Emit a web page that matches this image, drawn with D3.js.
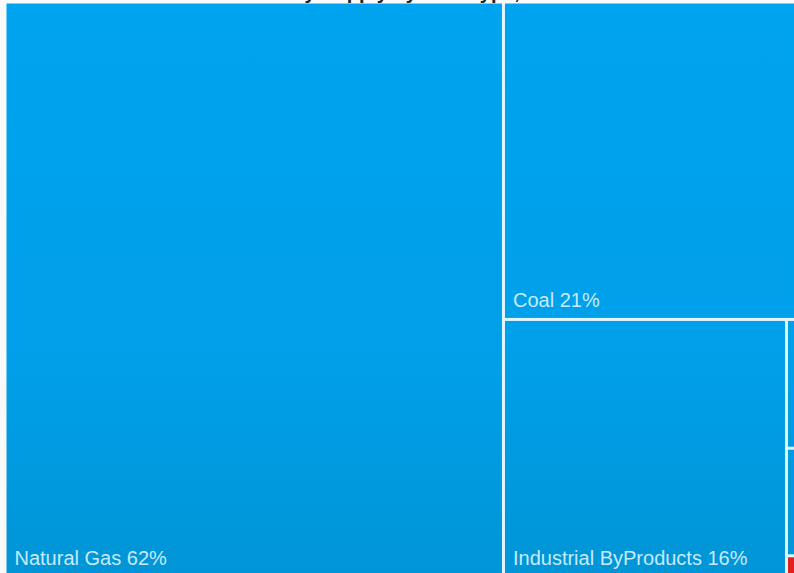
<!DOCTYPE html>
<html>
<head>
<meta charset="utf-8">
<script src="https://cdn.jsdelivr.net/npm/d3@7"></script>
<style>
  body { margin: 0; background: #fafafa; overflow: hidden; }
  svg { display: block; }
</style>
</head>
<body>
<div id="chart"></div>
<script>
// canvas size of the screenshot
let svgWidth = 794;
let svgHeight = 573;

// Fuel categories and their share (%) of generation
let fuels = ["Natural Gas", "Coal", "Industrial ByProducts", "Oil", "Hydro", "Other"];
let shares = [62, 21, 16, 0.73, 0.61, 0.16];
let labels = ["62%", "21%", "16%", "1%", "1%", "0%"];
let colors = ["blue", "blue", "blue", "blue", "blue", "red"];

let chartTitle = "Electricity Supply by Fuel Type, 2019";

// treemap is bigger than the window, it gets cut at right / bottom
let treeWidth = 805;
let treeHeight = 579;
let offsetX = 6.5;
let offsetY = 3.5;
// labels never go below this line (bottom of the window)
let visibleBottom = 576;

let svg = d3.select("#chart")
  .append("svg")
  .attr("width", svgWidth)
  .attr("height", svgHeight);

// vertical gradient, the blue gets a little darker toward the bottom
let defs = svg.append("defs");
let grad = defs.append("linearGradient")
  .attr("id", "blueGrad")
  .attr("gradientUnits", "userSpaceOnUse")
  .attr("x1", 0).attr("y1", 0)
  .attr("x2", 0).attr("y2", svgHeight);
grad.append("stop").attr("offset", "0%").attr("stop-color", "#00a3ef");
grad.append("stop").attr("offset", "60%").attr("stop-color", "#00a0ea");
grad.append("stop").attr("offset", "100%").attr("stop-color", "#0095d6");

let fillFor = {
  blue: "url(#blueGrad)",
  red: "#e0201c"
};

// title sits mostly above the visible area, only descenders show
svg.append("text")
  .attr("x", 395)
  .attr("y", -1)
  .attr("text-anchor", "middle")
  .style("font-family", "Liberation Sans, Arial, sans-serif")
  .style("font-size", "20px")
  .style("font-weight", "bold")
  .style("fill", "#222")
  .text(chartTitle);

// build hierarchy
let tableData = fuels.map((f, i) => ({
  name: f,
  value: shares[i],
  label: labels[i],
  color: colors[i]
}));

let root = d3.hierarchy({ name: "root", children: tableData })
  .sum(d => d.value)
  .sort((a, b) => b.value - a.value);

d3.treemap()
  .tile(d3.treemapSquarify)
  .size([treeWidth, treeHeight])
  .paddingInner(3)
  (root);

let chartGroup = svg.append("g")
  .attr("transform", `translate(${offsetX}, ${offsetY})`);

// white-ish backdrop behind the tiles so the gaps look light
chartGroup.append("rect")
  .attr("x", 1.5)
  .attr("y", 1.5)
  .attr("width", treeWidth)
  .attr("height", treeHeight)
  .attr("fill", "#e2f6ff");

let cells = chartGroup.selectAll("g.cell")
  .data(root.leaves())
  .enter()
  .append("g")
  .attr("class", "cell");

cells.append("rect")
  .attr("x", d => d.x0)
  .attr("y", d => d.y0)
  .attr("width", d => d.x1 - d.x0)
  .attr("height", d => d.y1 - d.y0)
  .attr("fill", d => fillFor[d.data.color]);

// labels only where the tile is wide enough
cells.filter(d => d.x1 - d.x0 > 120)
  .append("text")
  .attr("x", d => d.x0 + 8)
  .attr("y", d => Math.min(d.y1 + offsetY, visibleBottom) - offsetY - 11)
  .style("font-family", "Liberation Sans, Arial, sans-serif")
  .style("font-size", "20px")
  .style("fill", "#c6ebfb")
  .text(d => `${d.data.name} ${d.data.label}`);
</script>
</body>
</html>
